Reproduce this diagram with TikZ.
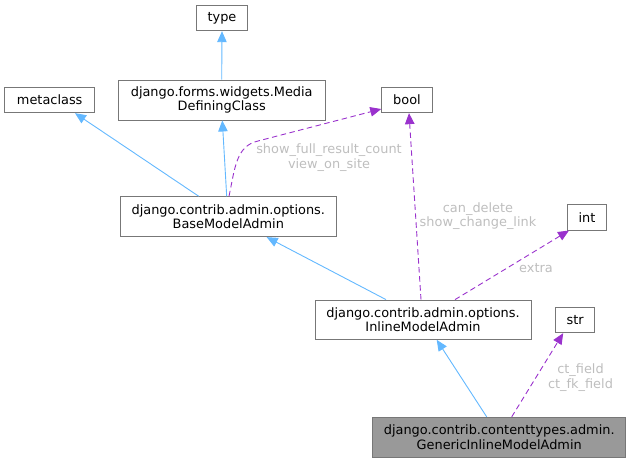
\documentclass[tikz,border=0pt]{standalone}
\usepackage{fontspec}
\setmainfont{DejaVu Sans}
\usetikzlibrary{arrows.meta}
\definecolor{inh}{HTML}{63B8FF}
\definecolor{use}{HTML}{9A32CD}
\definecolor{bord}{HTML}{777777}
\definecolor{lbl}{HTML}{BEBEBE}
\definecolor{cur}{HTML}{999999}
\tikzset{
  cls/.style={draw=bord, line width=0.9pt, fill=white, inner sep=0pt, align=center,
    font=\fontsize{12.9}{14.4}\selectfont},
  inherit/.style={draw=inh, line width=0.9pt, -{Triangle[length=11pt,width=9.5pt]}},
  uses/.style={draw=use, line width=0.9pt, dash pattern=on 5.5pt off 3.5pt,
    -{Triangle[length=11pt,width=9.5pt]}},
  elabel/.style={text=lbl, align=center, inner sep=0pt, font=\fontsize{12.9}{14.4}\selectfont}
}
\begin{document}
\begin{tikzpicture}[x=1pt,y=-1pt]
\useasboundingbox (0,0) rectangle (631,463);
\node[cls, minimum width=50.6pt, minimum height=25.7pt] (type) at (222,17.9) {type};
\node[cls, minimum width=90pt, minimum height=25.4pt] (meta) at (49.7,100) {metaclass};
\node[cls, minimum width=206.7pt, minimum height=40pt] (media) at (221.7,100) {django.forms.widgets.Media\\DefiningClass};
\node[cls, minimum width=50.6pt, minimum height=25.4pt] (bool) at (407,100) {bool};
\node[cls, minimum width=216.7pt, minimum height=40pt] (base) at (228.3,216.7) {django.contrib.admin.options.\\BaseModelAdmin};
\node[cls, minimum width=39.4pt, minimum height=25.7pt] (int) at (587,217.2) {int};
\node[cls, minimum width=216pt, minimum height=39.3pt] (inline) at (423,319.7) {django.contrib.admin.options.\\InlineModelAdmin};
\node[cls, minimum width=39pt, minimum height=25.4pt] (str) at (575.2,320) {str};
\node[cls, fill=cur, minimum width=253pt, minimum height=40pt] (gen) at (499.2,437.3) {django.contrib.contenttypes.admin.\\GenericInlineModelAdmin};

\draw[inherit] (media.north) -- (type.south);
\draw[inherit] ([xshift=-29.6pt]base.north) -- ([xshift=25.3pt]meta.south);
\draw[inherit] ([xshift=-1.6pt]base.north) -- ([xshift=0.6pt]media.south);
\draw[inherit] ([xshift=-37pt]inline.north) -- ([xshift=38.4pt]base.south);
\draw[inherit] ([xshift=-12.5pt]gen.north) -- ([xshift=13.7pt]inline.south);

\draw[uses] ([xshift=0.7pt]base.north) .. controls (235,168) and (236,146) .. (258,141) -- ([yshift=-9pt]bool.west);
\draw[uses] ([xshift=-2pt]inline.north) -- ([xshift=2pt]bool.south);
\draw[uses] ([xshift=32pt]inline.north) -- ([xshift=-18pt]int.south);
\draw[uses] ([xshift=12.5pt]gen.north) -- ([xshift=-12pt]str.south);

\node[elabel] (l1) at (329,157.5) {show\_full\_result\_count\\view\_on\_site};
\node[elabel] (l2) at (478,216.3) {can\_delete\\show\_change\_link};
\node[elabel] (l3) at (536,267.7) {extra};
\node[elabel] (l4) at (580.5,377.5) {ct\_field\\ct\_fk\_field};
\end{tikzpicture}
\end{document}
